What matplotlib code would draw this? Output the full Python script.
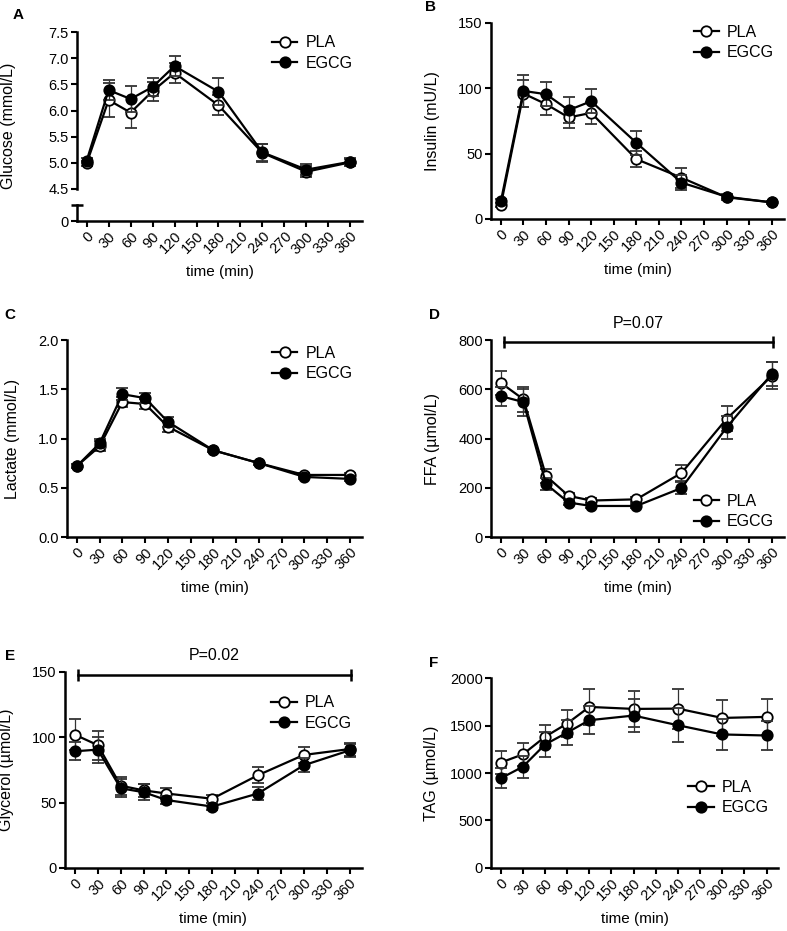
import numpy as np
import matplotlib
matplotlib.use('Agg')
import matplotlib.pyplot as plt

plt.rcParams['font.family'] = ['Liberation Sans', 'DejaVu Sans']
plt.rcParams['font.size'] = 10

# time points (min)
time = [0, 30, 60, 90, 120, 180, 240, 300, 360]
xticks = list(range(0, 361, 30))

# Glucose (mmol/L)
glu_pla = [4.99, 6.20, 5.96, 6.37, 6.72, 6.10, 5.19, 4.83, 5.01]
glu_pla_err = [0.05, 0.32, 0.30, 0.18, 0.19, 0.19, 0.17, 0.10, 0.07]
glu_egcg = [5.04, 6.39, 6.22, 6.45, 6.85, 6.36, 5.20, 4.87, 5.02]
glu_egcg_err = [0.05, 0.19, 0.24, 0.18, 0.19, 0.26, 0.16, 0.10, 0.07]

# Insulin (mU/L)
ins_pla = [10.7, 96.0, 87.9, 77.7, 81.2, 45.8, 31.6, 16.6, 12.7]
ins_pla_err = [1.5, 10.0, 8.0, 8.0, 8.6, 6.0, 7.6, 2.0, 1.0]
ins_egcg = [13.5, 98.0, 95.5, 83.3, 90.1, 58.3, 27.8, 17.0, 12.7]
ins_egcg_err = [1.5, 12.0, 9.0, 10.0, 9.0, 9.0, 6.0, 2.0, 1.0]

# Lactate (mmol/L)
lac_pla = [0.72, 0.92, 1.37, 1.35, 1.12, 0.88, 0.75, 0.63, 0.63]
lac_pla_err = [0.02, 0.05, 0.05, 0.05, 0.05, 0.02, 0.02, 0.02, 0.02]
lac_egcg = [0.72, 0.95, 1.45, 1.41, 1.17, 0.88, 0.75, 0.61, 0.59]
lac_egcg_err = [0.02, 0.05, 0.06, 0.05, 0.05, 0.02, 0.02, 0.02, 0.02]

# FFA (umol/L)
ffa_pla = [626, 559, 248, 167, 148, 153, 260, 480, 654]
ffa_pla_err = [48, 50, 30, 10, 10, 10, 31, 51, 55]
ffa_egcg = [572, 548, 215, 140, 126, 126, 199, 445, 662]
ffa_egcg_err = [38, 55, 25, 10, 8, 8, 23, 46, 50]

# Glycerol (umol/L)
gly_pla = [102, 94, 63, 59.4, 57, 53, 71, 86.5, 91]
gly_pla_err = [12, 11, 7, 5, 4, 3, 6, 6, 5]
gly_egcg = [89.3, 90.6, 61, 58, 52, 47, 57, 78.6, 90]
gly_egcg_err = [7, 10, 7, 6, 3, 3, 5, 5.5, 5]

# TAG (umol/L)
tag_pla = [1110, 1196, 1381, 1521, 1696, 1675, 1678, 1580, 1591]
tag_pla_err = [121, 119, 122, 147, 192, 192, 210, 193, 192]
tag_egcg = [944, 1066, 1300, 1426, 1556, 1605, 1503, 1406, 1395]
tag_egcg_err = [105, 115, 129, 132, 150, 171, 181, 168, 154]

fig = plt.figure(figsize=(7.87, 9.31), dpi=100)


def style_ax(ax, ylim, yticks, xaxis=True):
    ax.set_xlim(-13, 376)
    ax.set_ylim(*ylim)
    ax.set_yticks(yticks)
    for s in ['top', 'right']:
        ax.spines[s].set_visible(False)
    for s in ['left', 'bottom']:
        ax.spines[s].set_linewidth(1.8)
    ax.tick_params(axis='both', direction='out', length=4, width=1.5,
                   labelsize=10.5, pad=2)
    if xaxis:
        ax.set_xticks(xticks)
        ax.set_xticklabels([str(t) for t in xticks], rotation=45,
                           ha='right', rotation_mode='anchor')
        ax.set_xlabel('time (min)', fontsize=11, labelpad=6)
    else:
        ax.spines['bottom'].set_visible(False)
        ax.set_xticks([])


def draw(ax, pla, pla_err, egcg, egcg_err):
    ax.errorbar(time, pla, yerr=pla_err, color='black', lw=1.6, marker='o',
                ms=7.5, mfc='white', mec='black', mew=1.3, ecolor='#333333',
                elinewidth=0.9, capsize=4, capthick=0.9, label='PLA',
                clip_on=False, zorder=3)
    ax.errorbar(time, egcg, yerr=egcg_err, color='black', lw=1.6, marker='o',
                ms=7.5, mfc='black', mec='black', mew=1.3, ecolor='#333333',
                elinewidth=0.9, capsize=4, capthick=0.9, label='EGCG',
                clip_on=False, zorder=4)


def legend(ax, loc, anchor=None):
    h, l = ax.get_legend_handles_labels()
    h = [x[0] for x in h]
    kw = dict(loc=loc, frameon=False, fontsize=11.5, handlelength=1.6,
              handletextpad=0.5, labelspacing=0.35, borderaxespad=0.2)
    if anchor is not None:
        kw['bbox_to_anchor'] = anchor
    ax.legend(h, l, **kw)


def bracket(ax, y, text):
    ax.plot([4, 362], [y, y], color='black', lw=1.8, clip_on=False)
    ax.plot([4, 362], [y, y], ls='none', marker='|', ms=9, mew=1.8,
            color='black', clip_on=False)
    ax.annotate(text, (183, y), xytext=(0, 8), textcoords='offset points',
                ha='center', va='bottom', fontsize=11.5)


def panel_label(x, y, s):
    fig.text(x, y, s, fontsize=11, fontweight='bold', ha='left', va='center')


# A - glucose, broken axis
axA = fig.add_axes([0.098, 0.797, 0.362, 0.1686])
axA0 = fig.add_axes([0.098, 0.7626, 0.362, 0.0172])
style_ax(axA, (4.5, 7.5), [4.5, 5.0, 5.5, 6.0, 6.5, 7.0, 7.5], xaxis=False)
style_ax(axA0, (0, 1), [0])
axA.set_yticklabels(['4.5', '5.0', '5.5', '6.0', '6.5', '7.0', '7.5'])
axA.patch.set_visible(False)
axA0.patch.set_visible(False)
axA0.plot([0], [1], marker='_', ms=8, mew=1.8, color='black',
          transform=axA0.transAxes, clip_on=False)
draw(axA, glu_pla, glu_pla_err, glu_egcg, glu_egcg_err)
axA.set_ylabel('Glucose (mmol/L)', fontsize=11.5)
axA.yaxis.set_label_coords(-0.215, 0.4)
legend(axA, 'upper right', (1.0, 1.04))
panel_label(0.016, 0.984, 'A')

# B - insulin
axB = fig.add_axes([0.624, 0.7648, 0.372, 0.2105])
style_ax(axB, (0, 150), [0, 50, 100, 150])
draw(axB, ins_pla, ins_pla_err, ins_egcg, ins_egcg_err)
axB.set_ylabel('Insulin (mU/L)', fontsize=11.5, labelpad=13)
legend(axB, 'upper right', (1.0, 1.04))
panel_label(0.54, 0.992, 'B')

# C - lactate
axC = fig.add_axes([0.0851, 0.4232, 0.375, 0.2116])
style_ax(axC, (0, 2.0), [0.0, 0.5, 1.0, 1.5, 2.0])
axC.set_yticklabels(['0.0', '0.5', '1.0', '1.5', '2.0'])
draw(axC, lac_pla, lac_pla_err, lac_egcg, lac_egcg_err)
axC.set_ylabel('Lactate (mmol/L)', fontsize=11.5, labelpad=13)
legend(axC, 'upper right', (1.0, 1.02))
panel_label(0.006, 0.662, 'C')

# D - FFA
axD = fig.add_axes([0.624, 0.4232, 0.372, 0.2116])
style_ax(axD, (0, 800), [0, 200, 400, 600, 800])
draw(axD, ffa_pla, ffa_pla_err, ffa_egcg, ffa_egcg_err)
axD.set_ylabel('FFA (\u00b5mol/L)', fontsize=11.5, labelpad=13)
legend(axD, 'lower right', (1.0, -0.01))
bracket(axD, 790, 'P=0.07')
panel_label(0.545, 0.662, 'D')

# E - glycerol
axE = fig.add_axes([0.0826, 0.0677, 0.377, 0.2105])
style_ax(axE, (0, 150), [0, 50, 100, 150])
draw(axE, gly_pla, gly_pla_err, gly_egcg, gly_egcg_err)
axE.set_ylabel('Glycerol (\u00b5mol/L)', fontsize=11.5, labelpad=13)
legend(axE, 'upper right', (1.0, 0.93))
bracket(axE, 148, 'P=0.02')
panel_label(0.006, 0.295, 'E')

# F - TAG
axF = fig.add_axes([0.624, 0.0677, 0.365, 0.204])
style_ax(axF, (0, 2000), [0, 500, 1000, 1500, 2000])
draw(axF, tag_pla, tag_pla_err, tag_egcg, tag_egcg_err)
axF.set_ylabel('TAG (\u00b5mol/L)', fontsize=11.5, labelpad=8)
legend(axF, 'center right', (1.0, 0.37))
panel_label(0.545, 0.288, 'F')

fig.savefig('out.png', dpi=100)
